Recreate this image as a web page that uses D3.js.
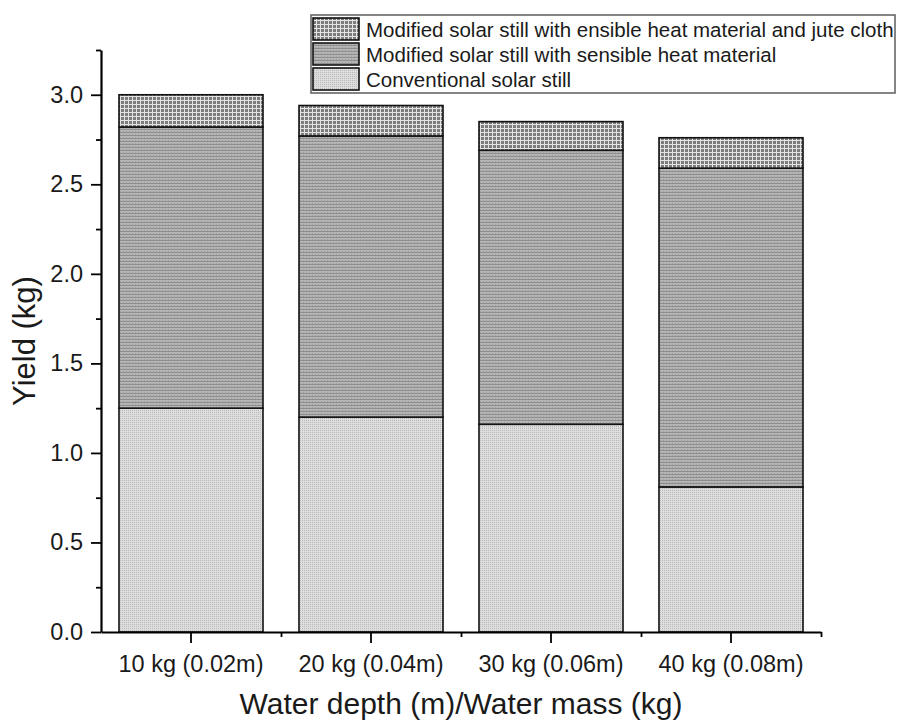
<!DOCTYPE html>
<html>
<head>
<meta charset="utf-8">
<script src="https://cdn.jsdelivr.net/npm/d3@7"></script>
<style>
  html, body { margin: 0; padding: 0; background: #fff; }
  svg { display: block; font-family: "Liberation Sans", Arial, sans-serif; }
</style>
</head>
<body>
<svg id="chart" width="897" height="720"></svg>
<script>
// ---- data ----
const categories = ["10 kg (0.02m)", "20 kg (0.04m)", "30 kg (0.06m)", "40 kg (0.08m)"];
const conventional = [1.25, 1.20, 1.16, 0.81];      // bottom segment
const sensibleExtra = [1.57, 1.57, 1.53, 1.78];      // middle segment (added on top)
const juteExtra = [0.18, 0.17, 0.16, 0.17];          // top segment
const seriesNames = [
  "Conventional solar still",
  "Modified solar still with sensible heat material",
  "Modified solar still with ensible heat material and jute cloth"
];
const yMajorTicks = [0, 0.5, 1.0, 1.5, 2.0, 2.5, 3.0];
const yMinorTicks = [0.25, 0.75, 1.25, 1.75, 2.25, 2.75, 3.25];
const xTitle = "Water depth (m)/Water mass (kg)";
const yTitle = "Yield (kg)";

// ---- layout ----
const svg = d3.select("#chart");
const mLeft = 101, mRight = 821, mTop = 50, mBottom = 632;

// ---- patterns ----
const defs = svg.append("defs");
function pattern(id, size, bg, draw) {
  const p = defs.append("pattern").attr("id", id).attr("patternUnits", "userSpaceOnUse")
    .attr("width", size).attr("height", size);
  p.append("rect").attr("width", size).attr("height", size).attr("fill", bg);
  draw(p);
}
// conventional: light dotted
pattern("pConv", 2, "#dedede", p => {
  p.append("rect").attr("x", 0).attr("y", 0).attr("width", 1).attr("height", 1).attr("fill", "#b8b8b8");
});
// sensible: medium gray with horizontal fine lines
pattern("pSens", 3, "#b6b6b6", p => {
  p.append("rect").attr("x", 0).attr("y", 0).attr("width", 3).attr("height", 1).attr("fill", "#8e8e8e");
  p.append("rect").attr("x", 0).attr("y", 2).attr("width", 1).attr("height", 1).attr("fill", "#a0a0a0");
});
// jute: grid
pattern("pJute", 4, "#7c7c7c", p => {
  p.append("rect").attr("x", 0).attr("y", 0).attr("width", 4).attr("height", 1).attr("fill", "#e4e4e4");
  p.append("rect").attr("x", 0).attr("y", 0).attr("width", 1).attr("height", 4).attr("fill", "#e4e4e4");
});
const fills = ["url(#pConv)", "url(#pSens)", "url(#pJute)"];

// ---- scales ----
const x = d3.scaleBand().domain(categories).range([mLeft, mRight]).paddingInner(0.2).paddingOuter(0.1);
const y = d3.scaleLinear().domain([0, 3.25]).range([mBottom, mTop]);

// ---- stacked data ----
const rows = categories.map((c, i) => ({ cat: c, conv: conventional[i], sens: sensibleExtra[i], jute: juteExtra[i] }));
const stacked = d3.stack().keys(["conv", "sens", "jute"])(rows);

const gBars = svg.append("g");
stacked.forEach((layer, li) => {
  gBars.append("g").selectAll("rect").data(layer).join("rect")
    .attr("x", d => x(d.data.cat))
    .attr("width", x.bandwidth())
    .attr("y", d => y(d[1]))
    .attr("height", d => y(d[0]) - y(d[1]))
    .attr("fill", fills[li])
    .attr("stroke", "#111")
    .attr("stroke-width", 1.6);
});

// ---- axes ----
const fontTick = 23.5;
// y minor
svg.append("g").attr("transform", `translate(${mLeft},0)`)
  .call(d3.axisLeft(y).tickValues(yMinorTicks).tickSize(5).tickSizeOuter(0).tickFormat(""))
  .call(g => g.select(".domain").remove())
  .call(g => g.selectAll("line").attr("stroke", "#000").attr("stroke-width", 1.8));
// y major
svg.append("g").attr("transform", `translate(${mLeft},0)`)
  .call(d3.axisLeft(y).tickValues(yMajorTicks).tickSize(10).tickSizeOuter(0).tickPadding(8).tickFormat(d3.format(".1f")))
  .call(g => g.select(".domain").attr("stroke", "#000").attr("stroke-width", 2.2))
  .call(g => g.selectAll("line").attr("stroke", "#000").attr("stroke-width", 1.8))
  .call(g => g.selectAll("text").attr("font-size", fontTick).attr("fill", "#1a1a1a")
      .attr("font-family", "Liberation Sans, Arial, sans-serif"));

// x minor ticks at band boundaries
const xBound = d3.scaleLinear().domain([0, categories.length]).range([mLeft, mRight]);
svg.append("g").attr("transform", `translate(0,${mBottom})`)
  .call(d3.axisBottom(xBound).tickValues([1, 2, 3, 4]).tickSize(5).tickSizeOuter(0).tickFormat(""))
  .call(g => g.select(".domain").remove())
  .call(g => g.selectAll("line").attr("stroke", "#000").attr("stroke-width", 1.8));
// x major
svg.append("g").attr("transform", `translate(0,${mBottom})`)
  .call(d3.axisBottom(x).tickSize(11).tickSizeOuter(0).tickPadding(12))
  .call(g => g.select(".domain").attr("stroke", "#000").attr("stroke-width", 2.2))
  .call(g => g.selectAll("line").attr("stroke", "#000").attr("stroke-width", 1.8))
  .call(g => g.selectAll("text").attr("font-size", fontTick).attr("fill", "#1a1a1a")
      .attr("font-family", "Liberation Sans, Arial, sans-serif"));

// ---- titles ----
svg.append("text").attr("x", (mLeft + mRight) / 2).attr("y", 714)
  .attr("text-anchor", "middle").attr("font-size", 30).attr("fill", "#1a1a1a").text(xTitle);
svg.append("text").attr("transform", `translate(35,${(mTop + mBottom) / 2}) rotate(-90)`)
  .attr("text-anchor", "middle").attr("font-size", 31).attr("fill", "#1a1a1a").text(yTitle);

// ---- legend ----
const lg = svg.append("g");
lg.append("rect").attr("x", 311).attr("y", 15).attr("width", 584).attr("height", 78)
  .attr("fill", "#fff").attr("stroke", "#666").attr("stroke-width", 1.6);
const legendOrder = [2, 1, 0];
legendOrder.forEach((si, k) => {
  const yy = 18 + k * 25;
  lg.append("rect").attr("x", 313).attr("y", yy).attr("width", 46).attr("height", 22)
    .attr("fill", fills[si]).attr("stroke", "#111").attr("stroke-width", 1.6);
  lg.append("text").attr("x", 366).attr("y", yy + 19).attr("font-size", 20.5).attr("fill", "#1a1a1a")
    .text(seriesNames[si]);
});
</script>
</body>
</html>
